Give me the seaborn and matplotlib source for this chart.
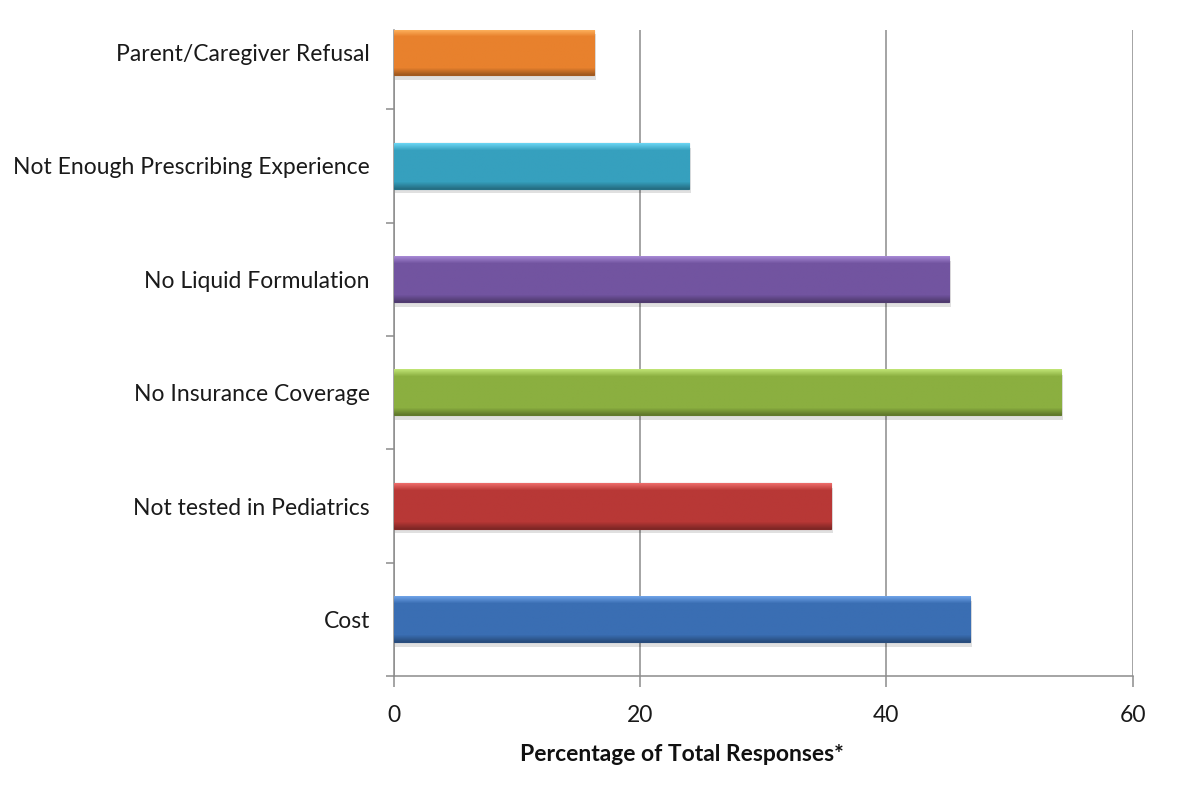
import numpy as np
import pandas as pd
import seaborn as sns
import matplotlib.pyplot as plt
from matplotlib.ticker import FixedLocator

# values (percent of total responses)
reasons = [
    "Parent/Caregiver Refusal",
    "Not Enough Prescribing Experience",
    "No Liquid Formulation",
    "No Insurance Coverage",
    "Not tested in Pediatrics",
    "Cost",
]
percent = [16.3, 24.0, 45.1, 54.2, 35.5, 46.8]
colors = ["#E8812D", "#36A0BE", "#7254A0", "#8BAF40", "#B83836", "#3A6EB3"]

df = pd.DataFrame({"reason": reasons, "percent": percent})

sns.set_style("white")
plt.rcParams["font.family"] = ["Lato", "DejaVu Sans"]

fig = plt.figure(figsize=(12, 7.88), dpi=100)
ax = fig.add_axes([0.328, 0.142, 0.616, 0.820])

sns.barplot(data=df, x="percent", y="reason", hue="reason", palette=colors,
            legend=False, width=0.4, orient="h", ax=ax, zorder=3)

# soft bevel look: vertical gradient over each bar, plus drop shadow
for patch, c in zip(ax.patches, colors):
    x0, y0 = patch.get_x(), patch.get_y()
    w, h = patch.get_width(), patch.get_height()
    base = np.array(plt.matplotlib.colors.to_rgb(c))
    t = np.linspace(0, 1, 40)[:, None]
    light = np.clip(base + 0.2, 0, 1)
    dark = base * 0.7
    grad = np.where(t < 0.15, light + (base - light) * (t / 0.15),
                    np.where(t < 0.85, base, base + (dark - base) * ((t - 0.85) / 0.15)))
    img = np.repeat(grad[:, None, :], 2, axis=1).reshape(40, 2, 3)
    ax.imshow(img, extent=(x0, x0 + w, y0 + h, y0), aspect="auto",
              zorder=4, interpolation="bilinear")
    patch.set_edgecolor(dark)
    patch.set_linewidth(0.8)
    shadow = plt.Rectangle((x0 + 0.15, y0 + 0.04), w, h, color="#000000",
                           alpha=0.12, zorder=2, linewidth=0)
    ax.add_patch(shadow)

ax.set_xlim(0, 60)
ax.set_ylim(5.5, -0.2)
ax.set_xticks([0, 20, 40, 60])
ax.xaxis.grid(True, color="#8c8c8c", linewidth=1.1, zorder=0)
ax.set_axisbelow(True)

ax.yaxis.set_minor_locator(FixedLocator(np.arange(0.5, 6, 1.0)))
ax.tick_params(axis="y", which="major", length=0, pad=17, labelsize=16.5,
               labelcolor="#1a1a1a")
ax.tick_params(axis="y", which="minor", length=6, width=1.1, color="#8c8c8c",
               direction="out", left=True)
ax.tick_params(axis="x", length=8, width=1.1, color="#8c8c8c", direction="out",
               bottom=True, pad=13, labelsize=16.5, labelcolor="#1a1a1a")

for s in ["top", "right"]:
    ax.spines[s].set_visible(False)
for s in ["left", "bottom"]:
    ax.spines[s].set_color("#8c8c8c")
    ax.spines[s].set_linewidth(1.1)

ax.set_ylabel("")
ax.set_xlabel("Percentage of Total Responses*", fontsize=16.5,
              fontweight="bold", labelpad=12, color="#111111")
ax.xaxis.set_label_coords(0.39, -0.105)

fig.savefig("out.png", dpi=100, facecolor="white")
